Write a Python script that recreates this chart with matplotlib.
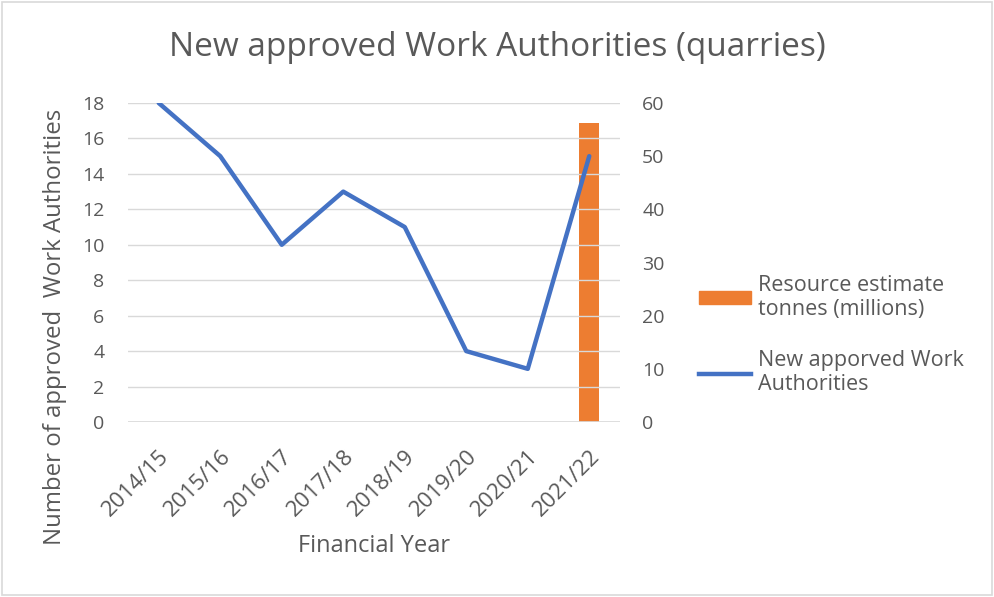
import matplotlib
matplotlib.use("Agg")
import matplotlib.pyplot as plt
from matplotlib.patches import Rectangle, Patch
from matplotlib.lines import Line2D
import numpy as np

years = ["2014/15", "2015/16", "2016/17", "2017/18", "2018/19", "2019/20", "2020/21", "2021/22"]
work_authorities = [18, 15, 10, 13, 11, 4, 3, 15]
resource_estimate = [0, 0, 0, 0, 0, 0, 0, 56.3]

plt.rcParams['font.family'] = ['Open Sans', 'DejaVu Sans']
gray = '#595959'

fig = plt.figure(figsize=(9.94, 5.97), dpi=100)
fig.patches.append(Rectangle((0.002, 0.003), 0.996, 0.994, transform=fig.transFigure,
                             fill=False, edgecolor='#d9d9d9', linewidth=1.2))

ax = fig.add_axes([128/994, 1-422/597, (620-128)/994, (422-103)/597])
ax2 = ax.twinx()

x = np.arange(len(years))
ax2.bar(x, resource_estimate, width=0.33, color='#ed7d31', zorder=2)
ax.plot(x, work_authorities, color='#4472c4', linewidth=3.2, solid_capstyle='round', zorder=3)
ax.set_zorder(ax2.get_zorder() + 1)
ax.patch.set_visible(False)

ax.set_xlim(-0.5, len(years) - 0.5)
ax.set_ylim(0, 18)
ax.set_yticks(range(0, 19, 2))
ax2.set_ylim(0, 60)
ax2.set_yticks(range(0, 61, 10))

for a in (ax, ax2):
    for s in a.spines.values():
        s.set_visible(False)
    a.tick_params(length=0, labelsize=14, colors=gray)
ax.tick_params(axis='y', pad=17)
ax2.tick_params(axis='y', pad=16)
ax.grid(axis='y', color='#d9d9d9', linewidth=1)
ax.set_axisbelow(True)
ax.axhline(0, color='#d9d9d9', linewidth=1.2)

ax.set_xticks(x)
ax.set_xticklabels(years, rotation=45, ha='right', rotation_mode='anchor', fontsize=16)
ax.tick_params(axis='x', pad=17)

ax.set_xlabel("Financial Year", fontsize=17, color=gray)
ax.xaxis.set_label_coords(0.5, -(546 - 422) / 319, transform=ax.transAxes)
ax.xaxis.label.set_va('center')
ax.set_ylabel("Number of approved  Work Authorities", fontsize=17.3, color=gray)
ax.yaxis.set_label_coords((55 - 128) / 492, (422 - 327) / 319)
ax.yaxis.label.set_va('center')
fig.text(0.5, 1-48/597, "New approved Work Authorities (quarries)", ha='center', va='center',
         fontsize=24, color=gray)

handles = [Patch(color='#ed7d31'), Line2D([0], [0], color='#4472c4', linewidth=3.2)]
labels = ["Resource estimate\ntonnes (millions)", "New apporved Work\nAuthorities"]
fig.legend(handles, labels, loc='center left', bbox_to_anchor=(680/994, 1-335/597),
           frameon=False, fontsize=15.5, labelcolor=gray, handlelength=2.4,
           labelspacing=1.4, handletextpad=0.3, handleheight=0.55)

fig.savefig("out.png", dpi=100)
